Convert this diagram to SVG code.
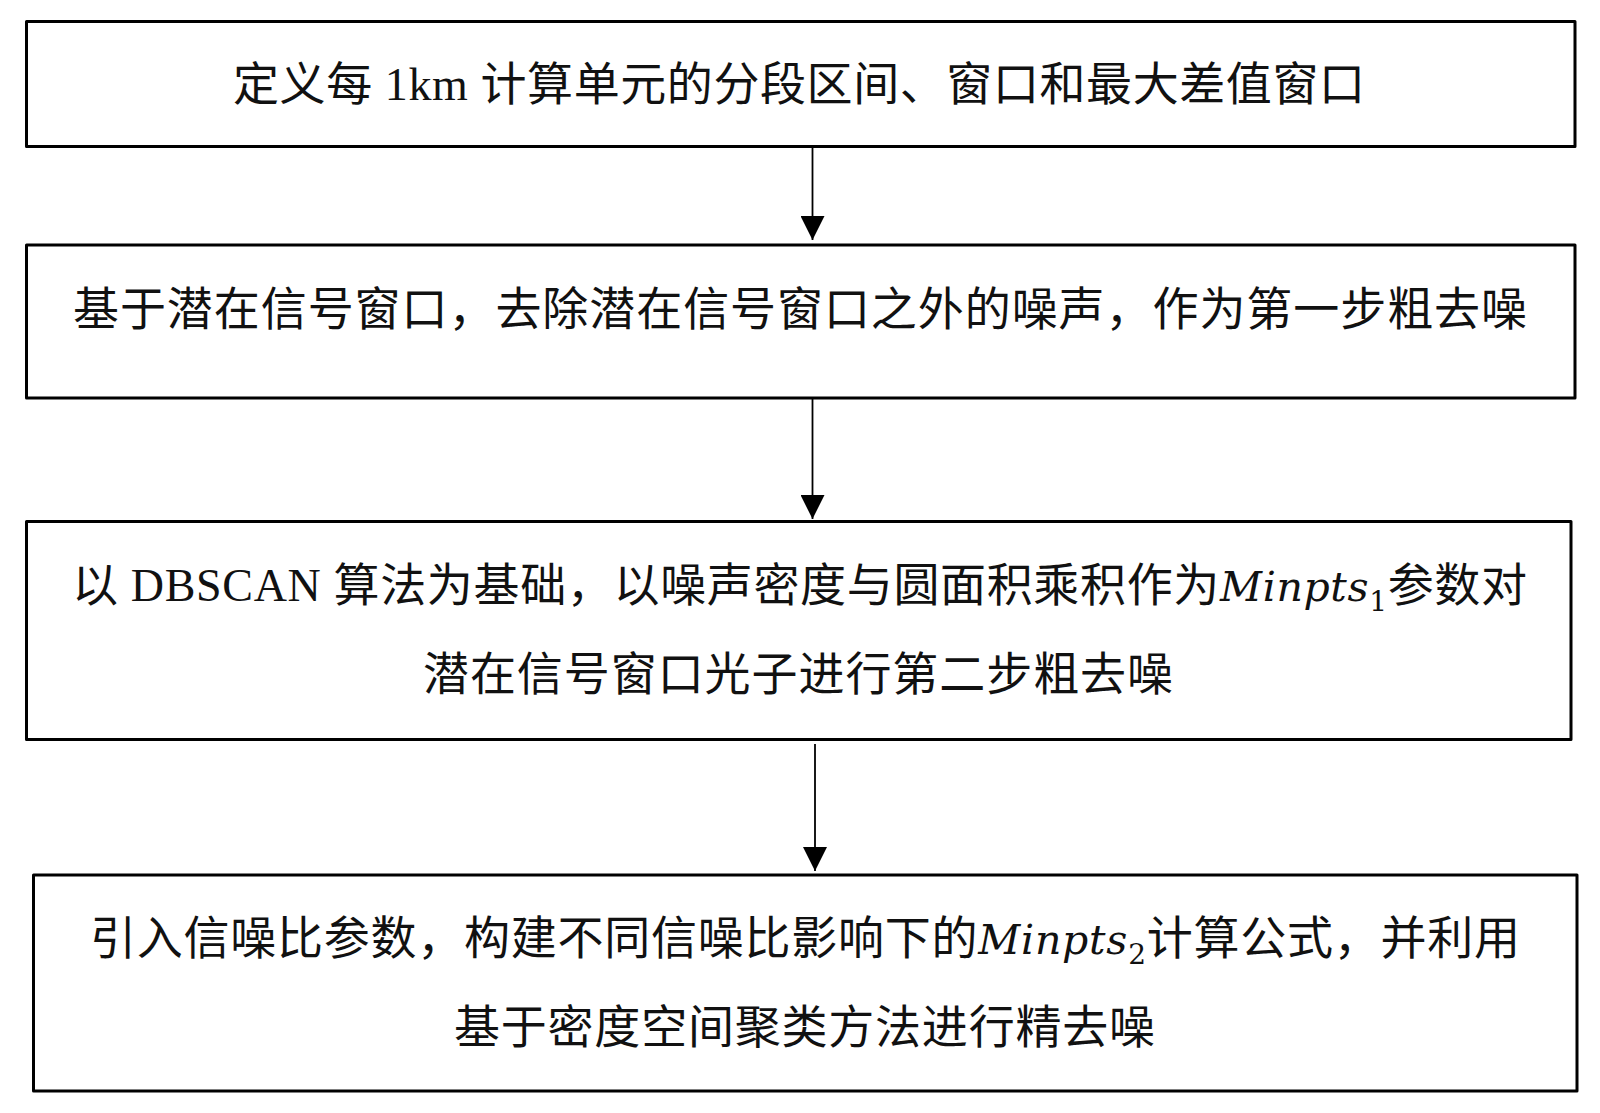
<svg xmlns="http://www.w3.org/2000/svg" width="1600" height="1113" viewBox="0 0 1600 1113">
  <style>
    .box { fill: #ffffff; stroke: #000000; stroke-width: 3; stroke-linejoin: round; }
    .lbl { font-family: "Liberation Serif", "Noto Sans CJK SC", serif; font-size: 46px; fill: #111111; }
    .math { font-family: "DejaVu Serif", "Liberation Serif", serif; font-style: italic; font-size: 41px; }
    .sub { font-family: "DejaVu Serif", "Liberation Serif", serif; font-style: normal; font-size: 28px; }
    .conn { stroke: #000000; stroke-width: 1.8; fill: none; marker-end: url(#arrow); }
  </style>
  <defs>
    <marker id="arrow" markerUnits="userSpaceOnUse" markerWidth="24" markerHeight="24" viewBox="0 0 23 23" refX="23" refY="11.5" orient="auto">
      <path d="M0,0 L23,11.5 L0,23 Z" fill="#000000"/>
    </marker>
  </defs>
  <rect width="1600" height="1113" fill="#ffffff"/>

  <g id="node1">
    <rect class="box" x="26.5" y="21.5" width="1548.5" height="125"/>
    <text class="lbl" x="233" y="100" textLength="1132" lengthAdjust="spacing">定义每 1km 计算单元的分段区间、窗口和最大差值窗口</text>
  </g>

  <g id="node2">
    <rect class="box" x="26.5" y="245" width="1548.5" height="153"/>
    <text class="lbl" x="73" y="325" textLength="1454" lengthAdjust="spacing">基于潜在信号窗口，去除潜在信号窗口之外的噪声，作为第一步粗去噪</text>
  </g>

  <g id="node3">
    <rect class="box" x="26.5" y="521.5" width="1544.5" height="218"/>
    <text class="lbl" x="72" y="601" textLength="1455" lengthAdjust="spacing">以 DBSCAN 算法为基础，以噪声密度与圆面积乘积作为<tspan class="math">Minpts</tspan><tspan class="sub" dy="10">1</tspan><tspan dy="-10">参数对</tspan></text>
    <text class="lbl" x="423" y="690" textLength="750" lengthAdjust="spacing">潜在信号窗口光子进行第二步粗去噪</text>
  </g>

  <g id="node4">
    <rect class="box" x="33.5" y="875" width="1543.5" height="216"/>
    <text class="lbl" x="90" y="954" textLength="1430" lengthAdjust="spacing">引入信噪比参数，构建不同信噪比影响下的<tspan class="math">Minpts</tspan><tspan class="sub" dy="10">2</tspan><tspan dy="-10">计算公式，并利用</tspan></text>
    <text class="lbl" x="454" y="1043" textLength="701" lengthAdjust="spacing">基于密度空间聚类方法进行精去噪</text>
  </g>

  <g id="connectors">
    <line class="conn" x1="812.5" y1="148" x2="812.5" y2="240"/>
    <line class="conn" x1="812.5" y1="399" x2="812.5" y2="519"/>
    <line class="conn" x1="815" y1="744" x2="815" y2="871"/>
  </g>
</svg>
